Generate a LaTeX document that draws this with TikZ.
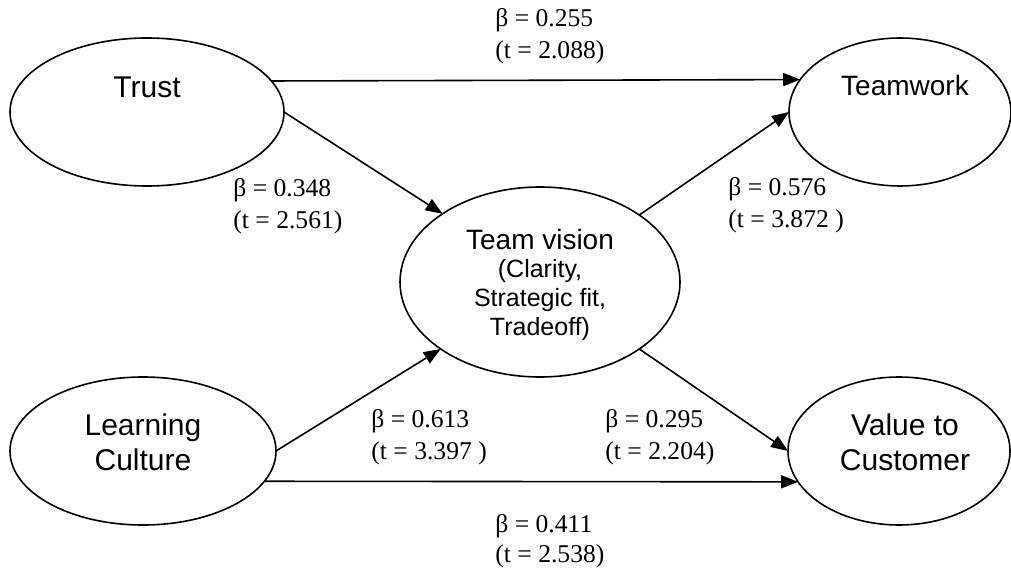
\documentclass[tikz,border=0pt]{standalone}
\usepackage{fontspec}
\setmainfont{Liberation Serif}
\setsansfont{Liberation Sans}
\usetikzlibrary{shapes.geometric, arrows.meta}

\begin{document}
\begin{tikzpicture}[x=0.5pt, y=-0.5pt,
	latent/.style={ellipse, draw, line width=0.8pt, inner sep=0pt, outer sep=0pt},
	lvtext/.style={font=\sffamily\fontsize{15}{17.5}\selectfont, align=center},
	coef/.style={anchor=west, align=left, inner sep=0pt, font=\fontsize{12.8}{16}\selectfont},
	conn/.style={line width=0.8pt, -{Triangle[length=8.5pt, width=6.5pt]}}]
	%\draw[help lines] (0,0) grid (1011,572);
	\useasboundingbox (0,0) rectangle (1011,572);

	\node [latent, minimum width=137pt, minimum height=74pt] (trust) at (147,112) {};		% Trust
	\node [latent, minimum width=111pt, minimum height=74pt] (teamwork) at (900,112) {};	% Teamwork
	\node [latent, minimum width=140pt, minimum height=95pt] (vision) at (540,282) {};		% Team vision
	\node [latent, minimum width=133pt, minimum height=74pt] (learning) at (143,451) {};	% Learning Culture
	\node [latent, minimum width=111pt, minimum height=74pt] (value) at (899,451) {};		% Value to Customer

	\node [lvtext] (trusttxt) at (147,87) {Trust};
	\node [lvtext, font=\sffamily\fontsize{14}{17}\selectfont] (teamworktxt) at (905,85) {Teamwork};
	\node [lvtext, font=\sffamily\fontsize{14}{17}\selectfont] (visiontxt) at (540,239) {Team vision};
	\node [lvtext, font=\sffamily\fontsize{12.5}{14.5}\selectfont] (visionsub) at (540,300) {(Clarity,\\Strategic fit,\\Tradeoff)};
	\node [lvtext] (learningtxt) at (143,442) {Learning\\Culture};
	\node [lvtext] (valuetxt) at (905,442) {Value to\\Customer};

	\draw [conn] (trust.14.5) -- (teamwork.162.3);			% Trust -> Teamwork
	\draw [conn] (trust.east) -- (vision.145.4);			% Trust -> Team vision
	\draw [conn] (vision.34.6) -- (teamwork.west);			% Team vision -> Teamwork
	\draw [conn] (learning.east) -- (vision.214.2);			% Learning -> Team vision
	\draw [conn] (vision.326.6) -- (value.west);			% Team vision -> Value
	\draw [conn] (learning.-14.4) -- (value.197.1);			% Learning -> Value

	\node [coef] (b1) at (495,36) {β = 0.255\\(t = 2.088)};
	\node [coef] (b2) at (233,206) {β = 0.348\\(t = 2.561)};
	\node [coef] (b3) at (728,205) {β = 0.576\\(t = 3.872 )};
	\node [coef] (b4) at (371,437) {β = 0.613\\(t = 3.397 )};
	\node [coef] (b5) at (605,437) {β = 0.295\\(t = 2.204)};
	\node [coef, font=\fontsize{12.8}{15}\selectfont] (b6) at (495,541) {β = 0.411\\(t = 2.538)};

\end{tikzpicture}
\end{document}
